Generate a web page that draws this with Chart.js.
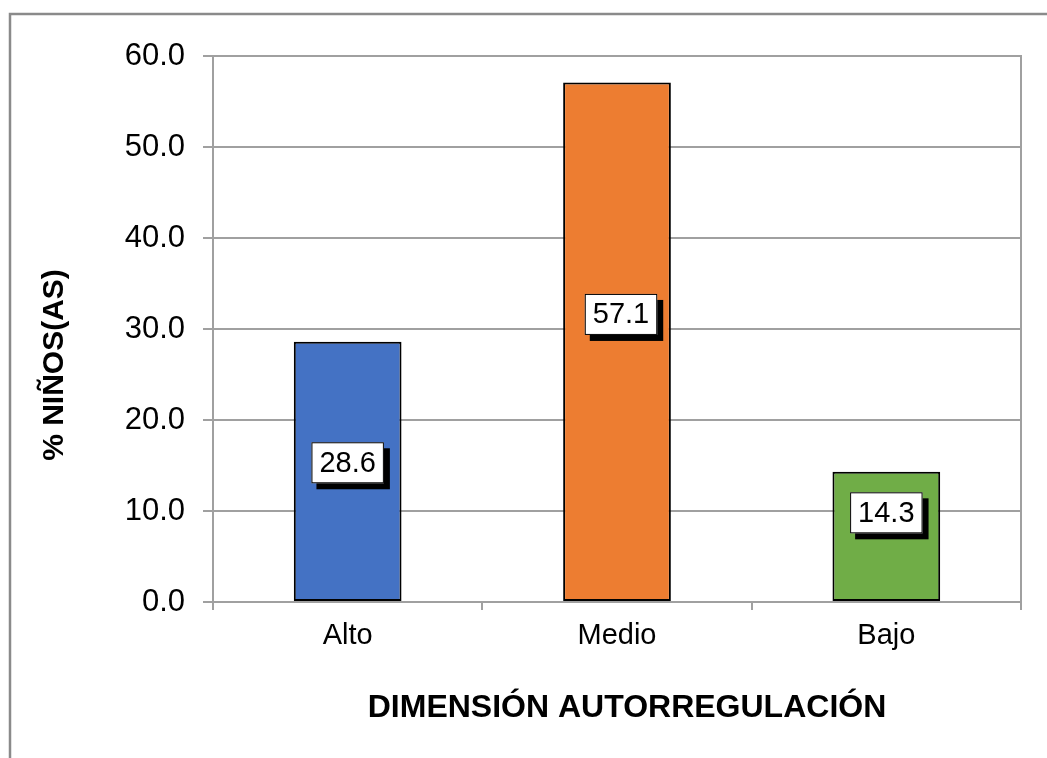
<!DOCTYPE html>
<html>
<head>
<meta charset="utf-8">
<script src="https://cdn.jsdelivr.net/npm/chart.js@4/dist/chart.umd.min.js"></script>
<style>
  html, body { margin: 0; padding: 0; background: #fff; }
  #wrap { width: 1047px; height: 758px; position: relative; }
</style>
</head>
<body>
<div id="wrap"><canvas id="c" width="1047" height="758"></canvas></div>
<script>
const categories = ['Alto', 'Medio', 'Bajo'];
const values = [28.6, 57.1, 14.3];
const barColors = ['#4472C4', '#ED7D31', '#70AD47'];
const yTickValues = [0, 10, 20, 30, 40, 50, 60];
const yTitle = '% NIÑOS(AS)';
const xTitle = 'DIMENSIÓN AUTORREGULACIÓN';

const FONT = "'Liberation Sans', Arial, Helvetica, sans-serif";

const framePlugin = {
  id: 'frame',
  beforeDraw(chart) {
    const ctx = chart.ctx;
    ctx.save();
    ctx.fillStyle = '#fff';
    ctx.fillRect(0, 0, chart.width, chart.height);
    ctx.strokeStyle = '#8a8a8a';
    ctx.lineWidth = 2.5;
    ctx.strokeRect(10, 14, chart.width + 50, chart.height + 50);
    ctx.restore();
  },
  afterDatasetsDraw(chart) {
    const ctx = chart.ctx;
    const a = chart.chartArea;
    ctx.save();
    ctx.strokeStyle = '#a0a0a0';
    ctx.lineWidth = 2;
    ctx.beginPath();
    ctx.moveTo(a.right, a.top - 1);
    ctx.lineTo(a.right, a.bottom + 8);
    ctx.stroke();
    ctx.restore();
  }
};

const titlesPlugin = {
  id: 'titlesCustom',
  afterDraw(chart, args, opts) {
    const ctx = chart.ctx;
    const a = chart.chartArea;
    ctx.save();
    ctx.fillStyle = '#000';
    ctx.textAlign = 'center';
    ctx.textBaseline = 'middle';
    ctx.font = 'bold 32px ' + FONT;
    ctx.fillText(xTitle, (a.left + a.right) / 2 + opts.xdx, a.bottom + opts.xdy);
    ctx.translate(a.left - opts.ydx, (a.top + a.bottom) / 2 + opts.ydy);
    ctx.rotate(-Math.PI / 2);
    ctx.font = 'bold 30px ' + FONT;
    ctx.fillText(yTitle, 0, 0);
    ctx.restore();
  }
};

const labelPlugin = {
  id: 'boxLabels',
  afterDatasetsDraw(chart, args, opts) {
    const ctx = chart.ctx;
    const meta = chart.getDatasetMeta(0);
    const yScale = chart.scales.y;
    ctx.save();
    ctx.font = '29px ' + FONT;
    meta.data.forEach((bar, i) => {
      const v = chart.data.datasets[0].data[i];
      const text = v.toFixed(1);
      const tw = ctx.measureText(text).width;
      const w = tw + 16, h = 41;
      const cx = bar.x + (opts.dx[i] || 0);
      const cy = yScale.getPixelForValue(opts.anchor[i]);
      const x0 = cx - w / 2, y0 = cy - h / 2;
      ctx.fillStyle = '#000';
      ctx.fillRect(x0 + 5, y0 + 6, w + 1, h);
      ctx.fillStyle = '#fff';
      ctx.fillRect(x0, y0, w, h);
      ctx.strokeStyle = '#000';
      ctx.lineWidth = 1;
      ctx.strokeRect(x0 + 0.5, y0 + 0.5, w - 1, h - 1);
      ctx.fillStyle = '#000';
      ctx.textAlign = 'center';
      ctx.textBaseline = 'middle';
      ctx.fillText(text, cx, cy + 1);
    });
    ctx.restore();
  }
};

new Chart(document.getElementById('c'), {
  type: 'bar',
  data: {
    labels: categories,
    datasets: [{
      data: values,
      backgroundColor: barColors,
      borderColor: '#000',
      borderWidth: 2,
      borderSkipped: false,
      categoryPercentage: 1.0,
      barPercentage: 0.4
    }]
  },
  options: {
    responsive: false,
    animation: false,
    devicePixelRatio: 1,
    layout: { padding: { top: 56, right: 26, left: 0, bottom: 0 } },
    plugins: {
      legend: { display: false },
      tooltip: { enabled: false },
      titlesCustom: { ydx: 158, ydy: 36, xdx: 10, xdy: 106 },
      boxLabels: { anchor: [15.3, 31.6, 9.8], dx: [0, 4, 0] }
    },
    scales: {
      x: {
        grid: {
          drawOnChartArea: false,
          drawTicks: true,
          tickLength: 8,
          color: '#a0a0a0',
          lineWidth: 2
        },
        border: { display: true, color: '#a0a0a0', width: 2 },
        ticks: {
          color: '#000',
          font: { family: FONT, size: 29 },
          padding: 9
        },
        afterFit(scale) { scale.height = 156; }
      },
      y: {
        min: 0,
        max: 60,
        afterBuildTicks(scale) { scale.ticks = yTickValues.map(v => ({ value: v })); },
        grid: {
          color: '#a0a0a0',
          lineWidth: 2,
          tickLength: 10
        },
        border: { display: true, color: '#a0a0a0', width: 2 },
        ticks: {
          color: '#000',
          font: { family: FONT, size: 31 },
          padding: 18,
          callback: v => Number(v).toFixed(1)
        },
        afterFit(scale) { scale.width = 213; }
      }
    }
  },
  plugins: [framePlugin, titlesPlugin, labelPlugin]
});
</script>
</body>
</html>
